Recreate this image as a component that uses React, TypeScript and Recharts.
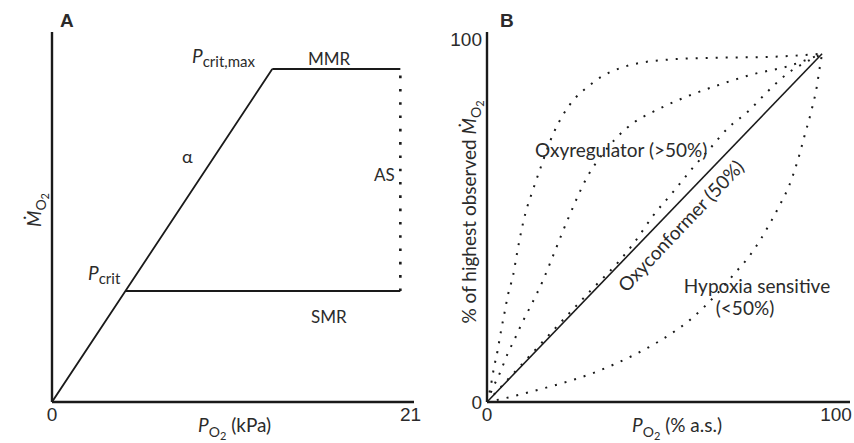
import React from "react";
import { LineChart, Line, XAxis, YAxis } from "recharts";

// Panel A – schematic of aerobic scope vs PO2 (kPa, arbitrary MO2 units)
const riseA = [
  { x: 0, y: 0 },
  { x: 4.3, y: 30 },
  { x: 12.9, y: 90 },
];
const mmrA = [
  { x: 12.9, y: 90 },
  { x: 20.4, y: 90 },
];
const smrA = [
  { x: 4.3, y: 30 },
  { x: 20.4, y: 30 },
];
const scopeA = [
  { x: 20.4, y: 30 },
  { x: 20.4, y: 90 },
];
const ticksA = [0, 21];

// Panel B – % of highest observed MO2 vs PO2 (% a.s.)
const conformerB = [
  { x: 0, y: 0 },
  { x: 96, y: 96 },
];
const regulatorStrong = [
  { x: 0, y: 0 }, { x: 1, y: 4 }, { x: 2, y: 9.5 }, { x: 3, y: 14 }, { x: 4, y: 19.5 },
  { x: 5, y: 24.5 }, { x: 6, y: 29.5 }, { x: 7.5, y: 35 }, { x: 8.6, y: 41 }, { x: 9.8, y: 47 },
  { x: 11, y: 52 }, { x: 13, y: 58 }, { x: 15.5, y: 65 }, { x: 19, y: 74 }, { x: 22, y: 79.5 },
  { x: 25, y: 83.5 }, { x: 29, y: 87 }, { x: 33, y: 89.8 }, { x: 38, y: 92 }, { x: 44, y: 93.5 },
  { x: 52, y: 94.4 }, { x: 65, y: 94.9 }, { x: 80, y: 95.1 }, { x: 96, y: 96 },
];
const regulatorMid = [
  { x: 0, y: 0 }, { x: 1.5, y: 3.5 }, { x: 3.7, y: 8 }, { x: 6, y: 13.5 }, { x: 8, y: 17.5 },
  { x: 10, y: 21.7 }, { x: 12.9, y: 27.2 }, { x: 15.8, y: 33 }, { x: 19, y: 40.5 }, { x: 23, y: 50 },
  { x: 28.7, y: 62 }, { x: 34.5, y: 70 }, { x: 40, y: 75.5 }, { x: 49.7, y: 81 }, { x: 57.5, y: 84.3 },
  { x: 67, y: 87.6 }, { x: 76.4, y: 90.4 }, { x: 86, y: 92.5 }, { x: 96, y: 96 },
];
const regulatorWeak = [
  { x: 0, y: 0 }, { x: 10, y: 10.4 }, { x: 20, y: 20.8 }, { x: 30, y: 31 }, { x: 38, y: 39 },
  { x: 42, y: 43.7 }, { x: 47.7, y: 51.5 }, { x: 53.4, y: 58 }, { x: 59, y: 64.6 }, { x: 64, y: 70 },
  { x: 69, y: 75.5 }, { x: 74.7, y: 80 }, { x: 80.5, y: 85.7 }, { x: 86, y: 90.5 }, { x: 91, y: 93.5 },
  { x: 96, y: 96 },
];
const sensitiveB = [
  { x: 0, y: 0 }, { x: 5, y: 1 }, { x: 12, y: 2.7 }, { x: 19, y: 4.5 }, { x: 25, y: 6.2 },
  { x: 31, y: 8.2 }, { x: 36, y: 10.2 }, { x: 42, y: 12.9 }, { x: 48, y: 16 }, { x: 53, y: 19 },
  { x: 58, y: 22.5 }, { x: 62, y: 26 }, { x: 67, y: 31 }, { x: 71, y: 35.5 }, { x: 75, y: 40 },
  { x: 78.5, y: 45 }, { x: 81.5, y: 50 }, { x: 84, y: 54.5 }, { x: 86.5, y: 59.5 }, { x: 89, y: 66.5 },
  { x: 91, y: 73.5 }, { x: 93, y: 80.5 }, { x: 94.5, y: 87 }, { x: 95.3, y: 92 }, { x: 96, y: 96 },
];
const ticksB = [0, 100];

const INK = "#1a1a1a";
const TEXT = "#2b2b2b";
const LABEL_FONT = "Lato, 'Noto Sans', sans-serif";
const TICK_FONT = "'Liberation Sans', Arial, sans-serif";

const axisLine = { stroke: INK, strokeWidth: 2.4 };
const tickStyle = { fontSize: 19, fill: TEXT, fontFamily: TICK_FONT };

function PanelA() {
  return (
    <LineChart width={430} height={443} margin={{ top: 32, right: 16, bottom: 11, left: 32 }}>
      <XAxis
        type="number"
        dataKey="x"
        domain={[0, 21.2]}
        ticks={ticksA}
        height={30}
        tickLine={false}
        tickSize={0}
        tickMargin={6}
        axisLine={axisLine}
        tick={tickStyle}
        allowDataOverflow
      />
      <YAxis type="number" dataKey="y" domain={[0, 100]} width={20} tick={false} tickLine={false} axisLine={axisLine} />
      <Line data={riseA} dataKey="y" stroke={INK} strokeWidth={1.8} dot={false} isAnimationActive={false} />
      <Line data={mmrA} dataKey="y" stroke={INK} strokeWidth={1.8} dot={false} isAnimationActive={false} />
      <Line data={smrA} dataKey="y" stroke={INK} strokeWidth={1.8} dot={false} isAnimationActive={false} />
      <Line data={scopeA} dataKey="y" stroke={INK} strokeWidth={2.6} strokeDasharray="2.6 10.7" dot={false} isAnimationActive={false} />
    </LineChart>
  );
}

function PanelB() {
  const dotted = { stroke: INK, strokeWidth: 2, strokeDasharray: "2 8", dot: false, isAnimationActive: false } as const;
  return (
    <LineChart width={424} height={443} margin={{ top: 32, right: 4, bottom: 11, left: 17 }}>
      <XAxis
        type="number"
        dataKey="x"
        domain={[0, 104]}
        ticks={ticksB}
        height={30}
        tickLine={false}
        tickSize={0}
        tickMargin={6}
        axisLine={axisLine}
        tick={tickStyle}
      />
      <YAxis
        type="number"
        dataKey="y"
        domain={[0, 102]}
        ticks={ticksB}
        width={40}
        tickLine={false}
        tickSize={0}
        tickMargin={5}
        axisLine={axisLine}
        tick={tickStyle}
      />
      <Line data={conformerB} dataKey="y" stroke={INK} strokeWidth={1.6} dot={false} isAnimationActive={false} />
      <Line data={regulatorStrong} dataKey="y" type="monotone" {...dotted} />
      <Line data={regulatorMid} dataKey="y" type="monotone" {...dotted} />
      <Line data={regulatorWeak} dataKey="y" type="monotone" {...dotted} />
      <Line data={sensitiveB} dataKey="y" type="monotone" {...dotted} />
    </LineChart>
  );
}

function Sub({ main, italic = true }: { main: string; italic?: boolean }) {
  return (
    <>
      <tspan fontStyle={italic ? "italic" : "normal"}>{main}</tspan>
      <tspan fontSize={14} dy={5}>O</tspan>
      <tspan fontSize={11} dy={3}>2</tspan>
    </>
  );
}

function Annotations() {
  return (
    <svg
      width={854}
      height={443}
      style={{ position: "absolute", left: 0, top: 0, pointerEvents: "none" }}
      fontFamily={LABEL_FONT}
      fill={TEXT}
    >
      <text x={60} y={27} fontSize={19} fontWeight="bold" fontFamily={TICK_FONT}>A</text>
      <text x={500} y={27} fontSize={19} fontWeight="bold" fontFamily={TICK_FONT}>B</text>

      {/* panel A */}
      <text x={192} y={63} fontSize={19}>
        <tspan fontStyle="italic">P</tspan>
        <tspan fontSize={15} dy={4}>crit,max</tspan>
      </text>
      <text x={308} y={65} fontSize={17}>MMR</text>
      <text x={182} y={163} fontSize={18}>α</text>
      <text x={374} y={181} fontSize={17}>AS</text>
      <text x={88} y={280} fontSize={19}>
        <tspan fontStyle="italic">P</tspan>
        <tspan fontSize={15} dy={4}>crit</tspan>
      </text>
      <text x={311} y={323} fontSize={17}>SMR</text>
      <text x={198} y={432} fontSize={19}>
        <Sub main="P" />
        <tspan fontSize={19} dy={-8}> (kPa)</tspan>
      </text>
      <text transform="translate(41,210) rotate(-90)" fontSize={19} textAnchor="middle">
        <Sub main="Ṁ" />
      </text>

      {/* panel B */}
      <text x={535} y={157} fontSize={19}>Oxyregulator (&gt;50%)</text>
      <text transform="translate(681,226) rotate(-46.5)" fontSize={19} textAnchor="middle" dy="0.35em">
        Oxyconformer (50%)
      </text>
      <text x={757} y={293} fontSize={19} textAnchor="middle">Hypoxia sensitive</text>
      <text x={745} y={315} fontSize={19} textAnchor="middle">(&lt;50%)</text>
      <text x={632} y={432} fontSize={19}>
        <Sub main="P" />
        <tspan fontSize={19} dy={-8}> (% a.s.)</tspan>
      </text>
      <text transform="translate(476,212) rotate(-90)" fontSize={19} textAnchor="middle">
        % of highest observed <Sub main="Ṁ" />
      </text>
    </svg>
  );
}

export default function App() {
  return (
    <div style={{ position: "absolute", left: 0, top: 0, width: 854, height: 443, background: "#fff" }}>
      <div style={{ position: "absolute", left: 0, top: 0 }}>
        <PanelA />
      </div>
      <div style={{ position: "absolute", left: 430, top: 0 }}>
        <PanelB />
      </div>
      <Annotations />
    </div>
  );
}
